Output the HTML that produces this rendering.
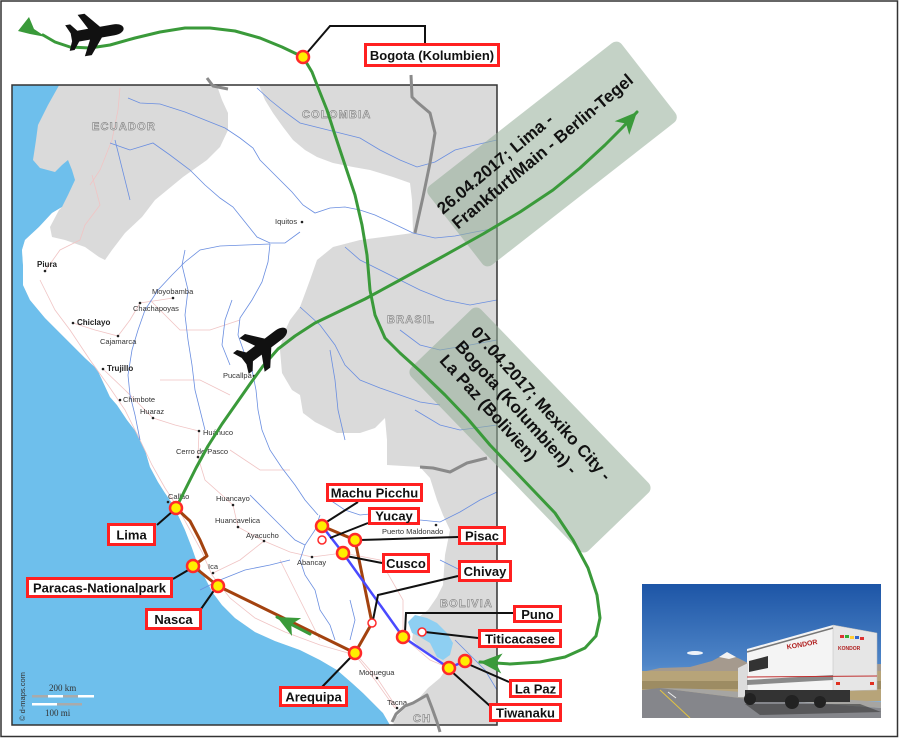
<!DOCTYPE html>
<html><head><meta charset="utf-8"><style>
html,body{margin:0;padding:0;background:#fff;}
svg{display:block;}
.lb{font-family:"Liberation Sans",sans-serif;font-weight:bold;font-size:13px;fill:#111;text-anchor:middle;}
.ct{font-family:"Liberation Sans",sans-serif;font-size:7.5px;fill:#333;}
.ctb{font-family:"Liberation Sans",sans-serif;font-size:8px;font-weight:bold;fill:#222;}
.cn{font-family:"Liberation Sans",sans-serif;font-size:11px;font-weight:bold;fill:#ececec;stroke:#8a8a8a;stroke-width:0.7;letter-spacing:1.2px;}
.gt{font-family:"Liberation Sans",sans-serif;font-size:17px;font-weight:bold;fill:#111;}
</style></head><body>
<svg width="900" height="738" viewBox="0 0 900 738" xmlns="http://www.w3.org/2000/svg">
<defs>
<clipPath id="mc"><rect x="12" y="85" width="485" height="640"/></clipPath>
<clipPath id="pc"><rect x="642" y="584" width="239" height="134"/></clipPath>
<marker id="ah" markerUnits="userSpaceOnUse" markerWidth="24" markerHeight="22" refX="22" refY="10" orient="auto" viewBox="0 0 24 22"><path d="M22,10 L0,0 L6,10 L0,20 Z" fill="#3a9a3a"/></marker>
<linearGradient id="sky" x1="0" y1="0" x2="0" y2="1"><stop offset="0" stop-color="#1d55a6"/><stop offset="0.6" stop-color="#4f86c8"/><stop offset="1" stop-color="#9cc3e6"/></linearGradient>
</defs>
<rect width="900" height="738" fill="#fff"/>

<g clip-path="url(#mc)">
<rect x="12" y="85" width="485" height="640" fill="#6ebfec"/>
<polygon fill="#dadada" points="62,80 48,105 38,125 36,140 33,160 40,168 55,172 62,165 68,160 72,170 75,180 68,195 62,207 52,213 39,227 25,240 22,250 23,265 23,285 30,300 45,318 57,330 72,345 85,358 97,369 110,397 117,405 127,420 137,433 145,450 150,467 158,482 165,493 172,503 178,515 185,530 192,548 198,565 205,578 213,593 222,605 235,618 255,632 275,641 300,650 320,660 337,670 352,683 363,693 375,705 383,713 390,725 392,730 500,730 500,80"/>
<polygon fill="#ffffff" points="215,80 257,80 265,100 273,113 283,127 293,140 305,150 317,157 333,163 353,167 370,170 393,177 410,183 412,200 413,233 398,235 383,237 360,240 333,247 317,260 310,280 300,307 290,320 283,335 280,350 282,373 292,390 300,395 303,413 315,422 337,433 360,433 375,428 385,418 387,440 387,465 420,467 430,478 437,500 443,515 450,530 445,555 443,585 437,597 428,610 415,620 412,640 428,655 447,668 440,678 428,688 420,697 413,702 403,710 395,718 392,730 390,725 383,713 375,705 363,693 352,683 337,670 320,660 300,650 275,641 255,632 235,618 222,605 213,593 205,578 198,565 192,548 185,530 178,515 172,503 165,493 158,482 150,467 145,450 137,433 127,420 117,405 110,397 97,369 85,358 72,345 57,330 45,318 30,300 23,285 23,265 22,250 25,240 39,227 52,213 62,207 59,210 50,227 52,237 65,240 85,247 99,257 105,260 112,250 125,233 142,217 155,200 183,177 207,160 220,147 228,130 228,113 222,100"/>
<polygon fill="#8ecff2" points="408,622 415,615 427,618 437,623 447,633 453,643 450,655 443,660 437,657 430,643 420,637 412,633"/>

<g fill="none" stroke="#f0c4c4" stroke-width="0.8">
<path d="M40,280 L55,310 L70,330 L90,360 L108,385 L125,410 L140,440 L152,465 L165,488 L178,508 L190,530 L202,552 L212,575 L230,598 L255,618 L285,632 L320,645 L355,655 L375,680 L395,708"/>
<path d="M73,323 L95,330 L118,336 L130,320 L140,303 L160,300 L173,298"/>
<path d="M103,369 L125,390 L153,418 L175,425 L199,431 L198,457 L205,480 L233,505 L238,527 L264,541 L290,552 L312,557 L343,553 L380,560 L403,600 L403,637 L430,660 L449,668"/>
<path d="M355,653 L377,678 L397,708 M213,573 L240,560 L264,541"/>
<path d="M120,88 L118,110 L112,140 L100,170 L90,185 M150,300 L180,330 L210,330 L240,320 M160,380 L200,380 L230,395 M230,450 L260,470 L290,470 M280,560 L300,600 L320,640 M45,271 L60,250 L80,240 M92,175 L100,205 L85,225 L80,240"/>
</g>

<g fill="none" stroke="#6a8ee0" stroke-width="0.8">
<path d="M128,98 L140,103 L160,104 L185,112 L205,120 L225,128 L240,138 L253,148 L260,160 L268,168 L280,180 L292,192 L303,205 L315,213 L330,208 L345,207 L360,210 L375,215 L390,222 L413,233 L435,238 L455,236 L475,232 L497,228"/>
<path d="M257,88 L270,100 L285,112 L300,123 L320,128 L340,133 L360,138 L380,150 L400,160 L417,167 L435,162 L455,150 L475,145 L497,140"/>
<path d="M110,143 L130,150 L153,143 L170,155 L190,170 L205,185 L220,198 L233,207 L245,222 L257,237 L270,243 L285,243 L300,232"/>
<path d="M140,440 L135,415 L130,395 L128,375 L132,350 L138,330 L145,310 L158,290 L172,275 L185,262 L200,250 L220,246 L245,245 L270,244"/>
<path d="M205,430 L200,410 L195,390 L192,365 L188,340 L185,315 L188,290 L182,265 L185,250"/>
<path d="M270,244 L268,262 L262,282 L252,300 L240,318 L238,335 L244,352 L252,370 L256,390 L258,410 L262,430 L270,450 L282,468 L295,485 L305,500 L318,515"/>
<path d="M232,300 L225,320 L222,345 L230,365"/>
<path d="M300,307 L320,325 L335,345 L345,365 L360,380 L380,388 L400,395 L420,402 L440,405"/>
<path d="M345,247 L360,260 L380,270 L400,280 L420,290 L445,300 L470,305 L497,300"/>
<path d="M400,330 L420,345 L440,350 L470,345 L497,340 M415,410 L440,425 L460,430 L497,425"/>
<path d="M330,500 L345,510 L360,515 L380,513 L400,515 L420,520 L440,522 L460,512 L480,500 L497,492"/>
<path d="M330,350 L335,380 L338,410 L345,440"/>
<path d="M320,515 L315,530 L305,545 L300,560 L305,575 L315,590 L320,610 L330,625 L335,640"/>
<path d="M250,495 L265,510 L280,525 L295,540 L305,545"/>
<path d="M200,590 L220,580 L245,570 L270,565 L290,560 M350,600 L355,620 L350,640"/>
<path d="M115,140 L120,160 L125,180 L130,200"/>
<path d="M440,560 L460,570 L480,575 L497,570 M455,640 L470,655 L485,670 L497,690"/>
</g>

<text class="cn" x="92" y="130">ECUADOR</text>
<text class="cn" x="302" y="118">COLOMBIA</text>
<text class="cn" x="387" y="323">BRASIL</text>
<text class="cn" x="440" y="607">BOLIVIA</text>
<text class="cn" x="413" y="722">CH</text>

<g fill="#222">
<circle cx="302" cy="222" r="1.3"/><circle cx="45" cy="271" r="1.3"/><circle cx="173" cy="298" r="1.3"/><circle cx="140" cy="303" r="1.3"/><circle cx="73" cy="323" r="1.3"/><circle cx="118" cy="336" r="1.3"/><circle cx="103" cy="369" r="1.3"/><circle cx="120" cy="400" r="1.3"/><circle cx="153" cy="418" r="1.3"/><circle cx="199" cy="431" r="1.3"/><circle cx="198" cy="457" r="1.3"/><circle cx="254" cy="376" r="1.3"/><circle cx="168" cy="502" r="1.3"/><circle cx="233" cy="505" r="1.3"/><circle cx="238" cy="527" r="1.3"/><circle cx="264" cy="541" r="1.3"/><circle cx="213" cy="573" r="1.3"/><circle cx="312" cy="557" r="1.3"/><circle cx="436" cy="525" r="1.3"/><circle cx="377" cy="678" r="1.3"/><circle cx="397" cy="708" r="1.3"/>
</g>
<text class="ct" x="275" y="224">Iquitos</text>
<text class="ctb" x="37" y="267">Piura</text>
<text class="ct" x="152" y="294">Moyobamba</text>
<text class="ct" x="133" y="311">Chachapoyas</text>
<text class="ctb" x="77" y="325">Chiclayo</text>
<text class="ct" x="100" y="344">Cajamarca</text>
<text class="ctb" x="107" y="371">Trujillo</text>
<text class="ct" x="123" y="402">Chimbote</text>
<text class="ct" x="140" y="414">Huaraz</text>
<text class="ct" x="203" y="435">Huánuco</text>
<text class="ct" x="176" y="454">Cerro de Pasco</text>
<text class="ct" x="223" y="378">Pucallpa</text>
<text class="ct" x="168" y="499">Callao</text>
<text class="ct" x="216" y="501">Huancayo</text>
<text class="ct" x="215" y="523">Huancavelica</text>
<text class="ct" x="246" y="538">Ayacucho</text>
<text class="ct" x="208" y="569">Ica</text>
<text class="ct" x="297" y="565">Abancay</text>
<text class="ct" x="382" y="534">Puerto Maldonado</text>
<text class="ct" x="359" y="675">Moquegua</text>
<text class="ct" x="387" y="705">Tacna</text>

<text x="49" y="691" font-family="Liberation Serif,serif" font-size="9" fill="#333">200 km</text>
<rect x="32" y="695" width="16" height="2.5" fill="#aaa"/><rect x="48" y="695" width="15" height="2.5" fill="#fff"/><rect x="63" y="695" width="15" height="2.5" fill="#aaa"/><rect x="78" y="695" width="16" height="2.5" fill="#fff"/>
<rect x="32" y="703" width="25" height="2.5" fill="#fff"/><rect x="57" y="703" width="25" height="2.5" fill="#aaa"/>
<text x="45" y="716" font-family="Liberation Serif,serif" font-size="9" fill="#333">100 mi</text>
<text transform="translate(25,721) rotate(-90)" font-family="Liberation Sans,sans-serif" font-size="7.5" fill="#333">© d-maps.com</text>
</g>
<rect x="12" y="85" width="485" height="640" fill="none" stroke="#333" stroke-width="1.5"/>

<g fill="none" stroke="#8a8a8a" stroke-width="3" stroke-linejoin="round">
<polyline points="207,78 213,86 228,89"/>
<polyline points="411,75 412,97 417,102 430,113 435,133 430,163 423,197 415,233"/>
<polyline points="420,467 433,468 450,472 467,463 487,458"/>
<polyline points="392,722 396,714 405,706 413,703 427,695 432,708 437,722 440,732"/>
</g>

<g fill="#93ad98" fill-opacity="0.55">
<rect x="-122.5" y="-50.5" width="245" height="101" rx="7" transform="translate(552,154) rotate(-38)"/>
<rect x="-127.5" y="-48.5" width="255" height="97" rx="7" transform="translate(530,430) rotate(46)"/>
</g>
<g transform="translate(443,215) rotate(-40)">
<text class="gt" x="0" y="0">26.04.2017; Lima -</text>
<text class="gt" x="2" y="21">Frankfurt/Main - Berlin-Tegel</text>
</g>
<g transform="translate(470,333) rotate(48)">
<text class="gt" x="0" y="0">07.04.2017; Mexiko City -</text>
<text class="gt" x="0" y="21">Bogota (Kolumbien) -</text>
<text class="gt" x="0" y="42">La Paz (Bolivien)</text>
</g>

<polyline fill="none" stroke="#a3420f" stroke-width="3" stroke-linejoin="round" points="176,508 190,521 200,540 207,556 193,566 218,586 355,653 372,623 355,540 322,526"/>
<polyline fill="none" stroke="#4a4aff" stroke-width="2.5" stroke-linejoin="round" points="322,526 343,553 403,637 449,668 465,661"/>

<g fill="none" stroke="#3a9a3a" stroke-width="3" stroke-linejoin="round" stroke-linecap="round">
<polyline marker-end="url(#ah)" points="43,35 55,42 70,47 90,48 110,45 135,38 160,32 185,28 210,28 235,31 260,38 282,47 303,57 312,72 319,90 327,110 335,135 345,165 355,195 362,225 367,255 370,290 375,315 385,338 400,353 420,371 445,395 467,418 490,445 512,468 533,490 555,513 573,540 588,568 597,595 600,618 596,636 585,648 565,657 540,662 510,664 480,662"/>
<polyline marker-end="url(#ah)" points="177,506 186,488 196,468 208,446 222,424 236,404 250,384 263,366 278,349 295,336 315,323 340,311 365,299 400,280 440,258 483,234 520,212 553,190 580,168 605,145 622,128 637,112"/>
<polyline marker-end="url(#ah)" points="310,634 277,617"/>
</g>
<polygon fill="#3a9a3a" points="18,31 29,17 34,29 46,37 30,34"/>

<g fill="none" stroke="#111" stroke-width="2" stroke-linejoin="miter">
<polyline points="306,54 330,26 425,26 425,43"/>
<polyline points="173,511 157,525"/>
<polyline points="190,569 173,579"/>
<polyline points="215,589 201,609"/>
<polyline points="352,656 322,687"/>
<polyline points="325,523 358,502"/>
<polyline points="368,523 330,538"/>
<polyline points="360,540 458,537"/>
<polyline points="346,556 382,563"/>
<polyline points="458,576 378,595 373,620"/>
<polyline points="513,613 406,613 405,632"/>
<polyline points="425,632 478,638"/>
<polyline points="468,664 509,682"/>
<polyline points="451,671 490,706"/>
</g>

<g fill="#ffee00" stroke="#ff2a2a" stroke-width="2.5">
<circle cx="303" cy="57" r="6"/><circle cx="176" cy="508" r="6"/><circle cx="193" cy="566" r="6"/><circle cx="218" cy="586" r="6"/><circle cx="355" cy="653" r="6"/><circle cx="322" cy="526" r="6"/><circle cx="355" cy="540" r="6"/><circle cx="343" cy="553" r="6"/><circle cx="403" cy="637" r="6"/><circle cx="449" cy="668" r="6"/><circle cx="465" cy="661" r="6"/>
</g>
<g fill="#fff" stroke="#ff2a2a" stroke-width="1.5">
<circle cx="322" cy="540" r="4"/><circle cx="372" cy="623" r="4"/><circle cx="422" cy="632" r="4"/>
</g>

<g fill="#fff" stroke="#ff2020" stroke-width="3">
<rect x="365.5" y="44.5" width="133" height="21"/>
<rect x="108.5" y="524.5" width="46" height="20"/>
<rect x="27.5" y="578.5" width="144" height="18"/>
<rect x="146.5" y="609.5" width="54" height="19"/>
<rect x="280.5" y="687.5" width="66" height="18"/>
<rect x="327.5" y="484.5" width="94" height="16"/>
<rect x="369.5" y="508.5" width="49" height="15"/>
<rect x="459.5" y="527.5" width="45" height="16"/>
<rect x="383.5" y="554.5" width="45" height="17"/>
<rect x="459.5" y="561.5" width="51" height="19"/>
<rect x="514.5" y="606.5" width="46" height="15"/>
<rect x="479.5" y="630.5" width="81" height="16"/>
<rect x="510.5" y="680.5" width="50" height="16"/>
<rect x="490.5" y="704.5" width="70" height="16"/>
</g>
<text class="lb" x="432" y="60">Bogota (Kolumbien)</text>
<text class="lb" x="131.5" y="539.5">Lima</text>
<text class="lb" x="99.5" y="592.5">Paracas-Nationalpark</text>
<text class="lb" x="173.5" y="624">Nasca</text>
<text class="lb" x="313.5" y="701.5">Arequipa</text>
<text class="lb" x="374.5" y="497.5">Machu Picchu</text>
<text class="lb" x="394" y="520.5">Yucay</text>
<text class="lb" x="482" y="540.5">Pisac</text>
<text class="lb" x="406" y="568">Cusco</text>
<text class="lb" x="485" y="576">Chivay</text>
<text class="lb" x="537.5" y="619">Puno</text>
<text class="lb" x="520" y="643.5">Titicacasee</text>
<text class="lb" x="535.5" y="693.5">La Paz</text>
<text class="lb" x="525.5" y="717.5">Tiwanaku</text>

<g fill="#111">
<path transform="translate(96,33) rotate(-10)" d="M28,0 C28,-3 24,-5.5 18,-5.5 L5,-5.5 L-8,-21 L-15,-21 L-7,-5.5 L-18,-5.5 L-24,-13 L-29,-13 L-25,-4 L-25,4 L-29,13 L-24,13 L-18,5.5 L-7,5.5 L-15,21 L-8,21 L5,5.5 L18,5.5 C24,5.5 28,3 28,0 Z"/>
<path transform="translate(264,346) rotate(-37)" d="M28,0 C28,-3 24,-5.5 18,-5.5 L5,-5.5 L-8,-21 L-15,-21 L-7,-5.5 L-18,-5.5 L-24,-13 L-29,-13 L-25,-4 L-25,4 L-29,13 L-24,13 L-18,5.5 L-7,5.5 L-15,21 L-8,21 L5,5.5 L18,5.5 C24,5.5 28,3 28,0 Z"/>
</g>

<g clip-path="url(#pc)">
<rect x="642" y="584" width="239" height="134" fill="url(#sky)"/>
<ellipse cx="695" cy="653" rx="8" ry="2" fill="#fff" opacity="0.9"/>
<polygon fill="#a59a8e" points="642,672 660,668 690,667 712,661 727,653 740,659 752,665 790,666 881,664 881,682 642,682"/>
<polygon fill="#f2f2f2" points="719,657 727,652 736,657 729,659"/>
<rect x="642" y="671" width="239" height="30" fill="#b7a479"/>
<rect x="642" y="681" width="239" height="8" fill="#9d8c63"/>
<polygon fill="#85868b" points="642,718 642,690 660,688 740,698 881,708 881,718"/>
<polygon fill="#a6a5a2" points="660,688 700,689 881,702 881,708 740,698"/>
<line x1="660" y1="690" x2="690" y2="718" stroke="#e2c441" stroke-width="1"/>
<line x1="668" y1="692" x2="676" y2="698" stroke="#eee" stroke-width="1"/>
<polygon fill="#3a3a3a" opacity="0.6" points="745,704 860,704 881,712 760,715"/>
<polygon fill="#f4f4f4" points="747,649 833,625 833,691 747,694"/>
<polygon fill="#e6e6e6" stroke="#bbb" stroke-width="0.5" points="833,625 877,633 877,690 833,691"/>
<polygon fill="#dcdcdc" points="738,668 748,663 748,697 738,697"/>
<polygon fill="#333" points="749,661 768,656 768,668 749,672"/>
<polygon fill="#8a8a8a" points="747,680 833,675 833,680 747,685"/>
<line x1="747" y1="677" x2="877" y2="676" stroke="#c03030" stroke-width="1"/>
<line x1="747" y1="652" x2="833" y2="628" stroke="#777" stroke-width="1.5"/>
<rect x="745" y="690" width="105" height="12" fill="#333"/>
<rect x="836" y="682" width="4" height="3" fill="#e03020"/><rect x="870" y="682" width="4" height="3" fill="#e03020"/>
<circle cx="750" cy="699" r="6" fill="#222"/><circle cx="792" cy="702" r="7" fill="#222"/><circle cx="820" cy="702" r="6" fill="#222"/>
<text x="787" y="648" font-family="Liberation Sans,sans-serif" font-size="7" font-weight="bold" fill="#b02020" transform="rotate(-10 795 648)">KONDOR</text>
<text x="838" y="650" font-family="Liberation Sans,sans-serif" font-size="5" font-weight="bold" fill="#b02020">KONDOR</text>
<rect x="840" y="635" width="4" height="3" fill="#d33"/><rect x="845" y="635" width="4" height="3" fill="#3a3"/><rect x="850" y="636" width="4" height="3" fill="#fc3"/><rect x="855" y="636" width="4" height="3" fill="#36c"/><rect x="860" y="637" width="4" height="3" fill="#d33"/>
</g>

<rect x="1" y="1" width="896.5" height="735.5" fill="none" stroke="#333" stroke-width="1.5"/>
</svg>
</body></html>
